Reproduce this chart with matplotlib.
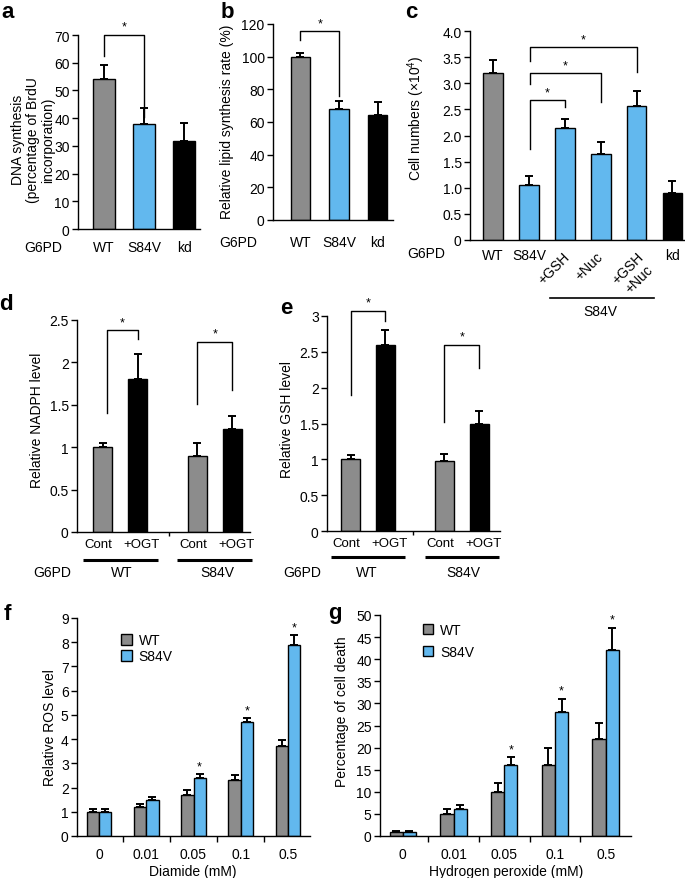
import matplotlib
matplotlib.use('Agg')
import matplotlib.pyplot as plt
import numpy as np
from matplotlib.patches import Patch
from matplotlib.transforms import blended_transform_factory as btf

plt.rcParams['font.family'] = ['Liberation Sans', 'DejaVu Sans']
plt.rcParams['font.size'] = 10
plt.rcParams['mathtext.fontset'] = 'custom'
plt.rcParams['mathtext.rm'] = 'Liberation Sans'
plt.rcParams['mathtext.default'] = 'regular'

# ---------------- data ----------------
a_labels = ['WT', 'S84V', 'kd']
a_values = [54, 38, 31.8]
a_errors = [5.2, 5.5, 6.3]

b_labels = ['WT', 'S84V', 'kd']
b_values = [100, 68, 64]
b_errors = [2, 5, 8]

c_labels = ['WT', 'S84V', '+GSH', '+Nuc', '+GSH\n+Nuc', 'kd']
c_values = [3.2, 1.05, 2.15, 1.65, 2.57, 0.9]
c_errors = [0.25, 0.17, 0.17, 0.23, 0.28, 0.23]

de_labels = ['Cont', '+OGT', 'Cont', '+OGT']
de_groups = ['WT', 'S84V']
d_values = [1.0, 1.8, 0.9, 1.22]
d_errors = [0.05, 0.3, 0.15, 0.15]
e_values = [1.0, 2.6, 0.97, 1.5]
e_errors = [0.06, 0.2, 0.1, 0.18]

doses = ['0', '0.01', '0.05', '0.1', '0.5']
f_wt = [1.0, 1.2, 1.7, 2.3, 3.7]
f_wt_err = [0.1, 0.12, 0.2, 0.2, 0.27]
f_s84v = [1.0, 1.5, 2.4, 4.7, 7.9]
f_s84v_err = [0.1, 0.1, 0.17, 0.17, 0.4]

g_wt = [1.0, 5, 10, 16, 22]
g_wt_err = [0.1, 1.0, 2.0, 4.0, 3.6]
g_s84v = [1.0, 6, 16, 28, 42]
g_s84v_err = [0.1, 1.0, 1.8, 3.0, 5.0]

# ---------------- style ----------------
GRAY = '#8c8c8c'
BLUE = '#62b8ee'
BLACK = '#000000'

W, H = 685, 879
fig = plt.figure(figsize=(W / 100, H / 100), dpi=100)


def px_axes(left, top, right, bottom):
    return fig.add_axes([left / W, 1 - bottom / H, (right - left) / W, (bottom - top) / H])


def ftext(x, y, s, **kw):
    return fig.text(x / W, 1 - y / H, s, **kw)


def style(ax, xpad):
    for s in ['top', 'right']:
        ax.spines[s].set_visible(False)
    for s in ['left', 'bottom']:
        ax.spines[s].set_linewidth(1.0)
    ax.tick_params(axis='y', direction='out', length=4, width=1, pad=2, labelsize=10)
    ax.tick_params(axis='x', length=0, pad=xpad, labelsize=10)


def bars(ax, x, vals, errs, colors, width):
    ax.bar(x, vals, width, color=colors, edgecolor='black', linewidth=1.0, zorder=2)
    ax.errorbar(x, vals, yerr=[np.zeros(len(vals)), errs], fmt='none', ecolor='black',
                elinewidth=1.4, capsize=3.0, capthick=1.4, zorder=1)


def bracket(ax, x1, x2, y1, y2, ytop, dy):
    ax.plot([x1, x1, x2, x2], [y1, ytop, ytop, y2], color='black', lw=1.0, clip_on=False)
    ax.text((x1 + x2) / 2, ytop + dy, '*', ha='center', va='bottom', fontsize=9, clip_on=False)


LETTER = dict(ha='center', va='center', fontsize=16, fontweight='bold')

# ---------------- panel a ----------------
ax = px_axes(78, 36, 200, 230)
xa = np.arange(len(a_labels))
bars(ax, xa, a_values, a_errors, [GRAY, BLUE, BLACK], 0.55)
ax.set_xlim(-0.65, 2.4)
ax.set_ylim(0, 70)
ax.set_yticks(np.arange(0, 71, 10))
ax.set_xticks(xa)
ax.set_xticklabels(a_labels)
style(ax, 8)
bracket(ax, 0, 1, 62.4, 40.4, 70, 0.8)
ftext(33, 140, 'DNA synthesis\n(percentage of BrdU\nincorporation)', rotation=90,
      ha='center', va='center', multialignment='center', fontsize=10, linespacing=1.1)
ftext(43, 248, 'G6PD', ha='center', va='center', fontsize=10)
ftext(8, 12, 'a', **LETTER)

# ---------------- panel b ----------------
ax = px_axes(273, 25, 393, 221)
xb = np.arange(len(b_labels))
bars(ax, xb, b_values, b_errors, [GRAY, BLUE, BLACK], 0.5)
ax.set_xlim(-0.71, 2.4)
ax.set_ylim(0, 120)
ax.set_yticks(np.arange(0, 121, 20))
ax.set_xticks(xb)
ax.set_xticklabels(b_labels)
style(ax, 11)
bracket(ax, 0, 1, 110, 76, 116, 0.5)
ftext(227, 122, 'Relative lipid synthesis rate (%)', rotation=90, ha='center', va='center', fontsize=10)
ftext(238, 243, 'G6PD', ha='center', va='center', fontsize=10)
ftext(227, 12, 'b', **LETTER)

# ---------------- panel c ----------------
ax = px_axes(470, 32, 685, 241)
xc = np.arange(len(c_labels))
bars(ax, xc, c_values, c_errors, [GRAY, BLUE, BLUE, BLUE, BLUE, BLACK], 0.55)
ax.set_xlim(-0.64, 5.35)
ax.set_ylim(0, 4.0)
ax.set_yticks(np.arange(0, 4.01, 0.5))
ax.set_yticklabels(['0'] + ['%.1f' % v for v in np.arange(0.5, 4.01, 0.5)])
ax.set_xticks([0, 1, 5])
ax.set_xticklabels([c_labels[0], c_labels[1], c_labels[5]])
style(ax, 6)
bracket(ax, 1.04, 2, 1.74, 2.54, 2.685, 0.02)
bracket(ax, 1.04, 3, 2.99, 2.64, 3.20, 0.02)
bracket(ax, 1.04, 4, 3.43, 3.22, 3.70, 0.02)
offs = {2: 8, 3: 5, 4: 21}
for i in (2, 3, 4):
    ax.annotate(c_labels[i], xy=(xc[i], 0), xycoords=('data', 'axes fraction'),
                xytext=(offs[i] * 0.72, -9 * 0.72), textcoords='offset points',
                rotation=45, ha='right', va='top', fontsize=10, multialignment='center')
tr = btf(ax.transData, ax.transAxes)
ax.plot([1.6, 4.5], [-58 / 209, -58 / 209], color='black', lw=1.2, transform=tr, clip_on=False)
ftext(600, 312, 'S84V', ha='center', va='center', fontsize=10)
ftext(426, 254, 'G6PD', ha='center', va='center', fontsize=10)
ftext(411, 12, 'c', **LETTER)
ftext(416, 118, r'Cell numbers (×10$^{4}$)', rotation=90, ha='center', va='center', fontsize=10)

# ---------------- panels d, e ----------------
xde = np.array([0, 1, 2.7, 3.7])
de_colors = [GRAY, BLACK, GRAY, BLACK]
de_lab_shift = np.array([-0.11, 0.11, -0.12, 0.12])


def panel_de(box, vals, errs, ymax, step, brs, line_y, ylabel, ylab_xy, xlim, tickx):
    ax = px_axes(*box)
    bars(ax, xde, vals, errs, de_colors, 0.54)
    ax.set_xlim(*xlim)
    ax.set_ylim(0, ymax)
    ticks = np.arange(0, ymax + 1e-9, step)
    ax.set_yticks(ticks)
    ax.set_yticklabels(['%g' % t for t in ticks])
    ax.set_xticks(xde + de_lab_shift)
    ax.set_xticklabels(de_labels)
    style(ax, 4)
    ax.tick_params(axis='x', labelsize=9.5)
    ax.set_xticks([tickx], minor=True)
    ax.tick_params(axis='x', which='minor', length=3, width=1, direction='out')
    for (x1, x2, y1, y2, yt, dy) in brs:
        bracket(ax, x1, x2, y1, y2, yt, dy)
    tr = btf(ax.transData, ax.transAxes)
    hgt = box[3] - box[1]
    ly = -(line_y - box[3]) / hgt
    for gc in (0.5, 3.2):
        ax.plot([gc - 1.07, gc + 1.07], [ly, ly], color='black', lw=2.2, transform=tr,
                clip_on=False, solid_capstyle='butt')
    ftext(*ylab_xy, ylabel, rotation=90, ha='center', va='center', fontsize=10)
    return ax


ax_d = panel_de((77, 321, 250, 533), d_values, d_errors, 2.5, 0.5,
                [(0.12, 1, 1.40, 2.28, 2.385, 0.02), (2.7, 3.7, 1.51, 1.67, 2.245, 0.02)],
                560.5, 'Relative NADPH level', (37, 420), (-0.73, 4.2), 1.9)
for gx, gl in zip((122, 217), de_groups):
    ftext(gx, 573, gl, ha='center', va='center', fontsize=10)
ftext(52, 573, 'G6PD', ha='center', va='center', fontsize=10)
ftext(6, 305, 'd', **LETTER)

ax_e = panel_de((327, 317, 500, 532), e_values, e_errors, 3.0, 0.5,
                [(0.0, 1, 1.90, 2.93, 3.07, 0.03), (2.7, 3.7, 1.52, 2.27, 2.595, 0.03)],
                557.7, 'Relative GSH level', (287, 420), (-0.68, 4.3), 1.8)
for gx, gl in zip((367, 463), de_groups):
    ftext(gx, 573, gl, ha='center', va='center', fontsize=10)
ftext(302, 573, 'G6PD', ha='center', va='center', fontsize=10)
ftext(286, 309, 'e', **LETTER)

# ---------------- panels f, g ----------------
def panel_fg(box, wt, wte, mut, mute, ymax, step, xlim, stars, leg_anchor, lspace,
             ylabel, ylab_xy, xlabel, xlab_xy):
    ax = px_axes(*box)
    x = np.arange(len(doses))
    bw = 0.26
    bars(ax, x - bw / 2, wt, wte, GRAY, bw)
    bars(ax, x + bw / 2, mut, mute, BLUE, bw)
    ax.set_xlim(*xlim)
    ax.set_ylim(0, ymax)
    ax.set_yticks(np.arange(0, ymax + 1e-9, step))
    for s in ['top', 'right']:
        ax.spines[s].set_visible(False)
    for s in ['left', 'bottom']:
        ax.spines[s].set_linewidth(1.0)
    ax.tick_params(axis='y', direction='out', length=4, width=1, pad=2, labelsize=10)
    ax.set_xticks(x[:-1] + 0.5)
    ax.set_xticklabels([])
    ax.tick_params(axis='x', which='major', direction='out', length=4, width=1)
    ax.set_xticks(x, minor=True)
    ax.set_xticklabels(doses, minor=True)
    ax.tick_params(axis='x', which='minor', length=0, pad=8, labelsize=10)
    for i, ys in stars:
        ax.text(x[i] + bw / 2, ys, '*', ha='center', va='bottom', fontsize=9)
    ax.legend([Patch(facecolor=GRAY, edgecolor='black'), Patch(facecolor=BLUE, edgecolor='black')],
              ['WT', 'S84V'], loc='upper left', bbox_to_anchor=leg_anchor, frameon=False,
              handlelength=0.75, handleheight=0.75, handletextpad=0.5, labelspacing=lspace,
              borderaxespad=0, borderpad=0, fontsize=10)
    ftext(*ylab_xy, ylabel, rotation=90, ha='center', va='center', fontsize=10)
    ftext(*xlab_xy, xlabel, ha='center', va='center', fontsize=10)
    return ax


panel_fg((77, 619, 310, 837), f_wt, f_wt_err, f_s84v, f_s84v_err, 9, 1, (-0.47, 4.47),
         [(2, 2.62), (3, 4.92), (4, 8.35)], (0.19, 0.93), 0.15,
         'Relative ROS level', (50, 728), 'Diamide (mM)', (193, 872))
ftext(7, 614, 'f', **LETTER)

panel_fg((380, 616, 631, 837), g_wt, g_wt_err, g_s84v, g_s84v_err, 50, 5, (-0.45, 4.5),
         [(2, 18.3), (3, 31.5), (4, 47.6)], (0.17, 0.965), 0.6,
         'Percentage of cell death', (342, 712), 'Hydrogen peroxide (mM)', (506, 872))
ftext(335, 614, 'g', **LETTER)

fig.savefig('out.png', dpi=100)
